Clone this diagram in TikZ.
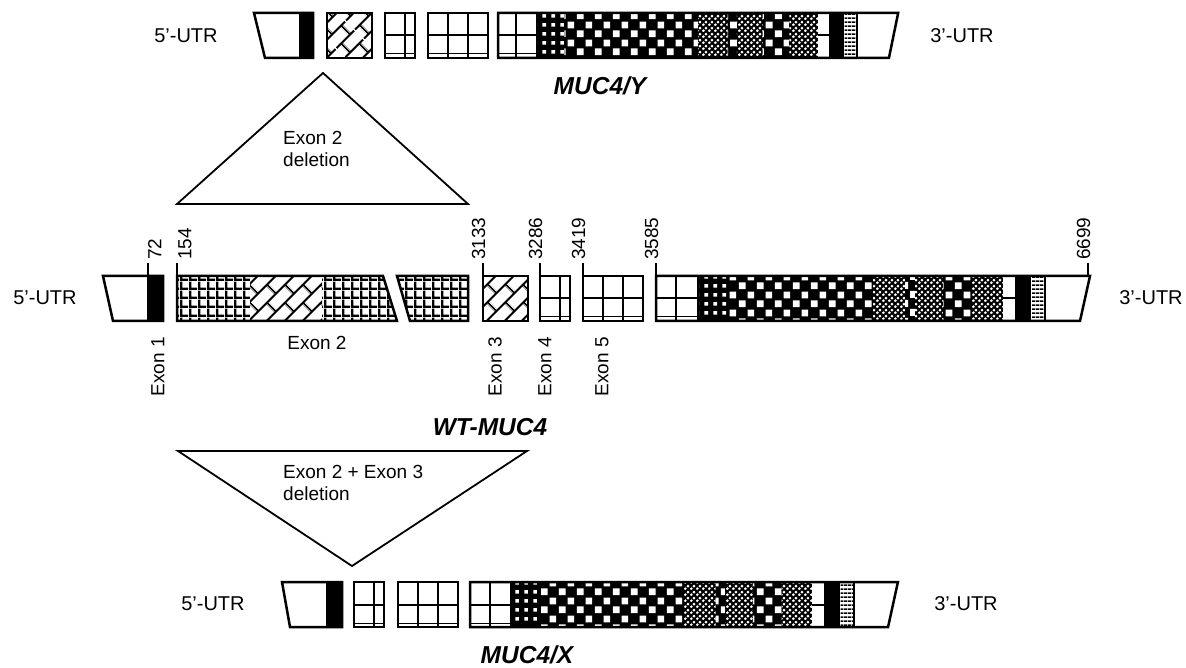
\documentclass[tikz,border=0pt]{standalone}
\usepackage{fontspec}
\setmainfont{Liberation Sans}
\usetikzlibrary{patterns,patterns.meta}

% fill patterns of the exon boxes
\pgfdeclarepatternformonly{exongrid}{\pgfpointorigin}{\pgfqpoint{9pt}{9pt}}{\pgfqpoint{9pt}{9pt}}{%
  \pgfpathrectangle{\pgfpointorigin}{\pgfqpoint{9pt}{2.5pt}}%
  \pgfpathrectangle{\pgfpointorigin}{\pgfqpoint{2.5pt}{9pt}}%
  \pgfusepath{fill}}
\pgfdeclarepatternformonly{whitecheck}{\pgfpointorigin}{\pgfqpoint{18pt}{18pt}}{\pgfqpoint{18pt}{18pt}}{%
  \pgfpathrectangle{\pgfqpoint{1pt}{1pt}}{\pgfqpoint{7pt}{7pt}}%
  \pgfpathrectangle{\pgfqpoint{10pt}{10pt}}{\pgfqpoint{7pt}{7pt}}%
  \pgfusepath{fill}}
\pgfdeclarepatternformonly{finedots}{\pgfpointorigin}{\pgfqpoint{6pt}{6pt}}{\pgfqpoint{6pt}{6pt}}{%
  \pgfpathcircle{\pgfqpoint{1.5pt}{1.5pt}}{1.7pt}%
  \pgfpathcircle{\pgfqpoint{4.5pt}{4.5pt}}{1.7pt}%
  \pgfusepath{fill}}
\pgfdeclarepatternformonly{sparsedots}{\pgfpointorigin}{\pgfqpoint{9pt}{9pt}}{\pgfqpoint{9pt}{9pt}}{%
  \pgfpathrectangle{\pgfqpoint{2.5pt}{2.5pt}}{\pgfqpoint{4pt}{4pt}}%
  \pgfusepath{fill}}
\pgfdeclarepatternformonly{hstripes}{\pgfpointorigin}{\pgfqpoint{4pt}{3.5pt}}{\pgfqpoint{4pt}{3.5pt}}{%
  \pgfpathrectangle{\pgfpointorigin}{\pgfqpoint{4pt}{1.7pt}}%
  \pgfusepath{fill}}
\pgfdeclarepattern{
  name=diagbricks,
  type=uncolored,
  bottom left={\pgfpoint{0pt}{0pt}},
  top right={\pgfpoint{26pt}{26pt}},
  tile size={\pgfpoint{26pt}{26pt}},
  tile transformation={\pgftransformrotate{45}},
  code={
    \pgfsetlinewidth{2.2pt}
    \pgfpathmoveto{\pgfpoint{0pt}{6.5pt}}\pgfpathlineto{\pgfpoint{26pt}{6.5pt}}
    \pgfpathmoveto{\pgfpoint{0pt}{19.5pt}}\pgfpathlineto{\pgfpoint{26pt}{19.5pt}}
    \pgfpathmoveto{\pgfpoint{6.5pt}{6.5pt}}\pgfpathlineto{\pgfpoint{6.5pt}{19.5pt}}
    \pgfpathmoveto{\pgfpoint{19.5pt}{19.5pt}}\pgfpathlineto{\pgfpoint{19.5pt}{26pt}}
    \pgfpathmoveto{\pgfpoint{19.5pt}{0pt}}\pgfpathlineto{\pgfpoint{19.5pt}{6.5pt}}
    \pgfusepath{stroke}
  }
}

\begin{document}
\begin{tikzpicture}[x=1pt,y=-1pt,
  box/.style={line width=2.5pt},
  cell/.style={line width=2pt},
  tick/.style={line width=1.8pt},
  tri/.style={line width=1.8pt,line join=miter},
  dotfill/.style={fill=black,postaction={pattern=finedots,pattern color=white}},
  checkfill/.style={fill=black,postaction={pattern=whitecheck,pattern color=white}},
  lbl/.style={font=\fontsize{19}{22.5}\selectfont,inner sep=0pt},
  utr/.style={font=\fontsize{20}{24}\selectfont,inner sep=0pt},
  title/.style={font=\fontsize{24.5}{28}\selectfont\bfseries\itshape,inner sep=0pt},
  num/.style={lbl,rotate=90}]
\useasboundingbox (0,0) rectangle (1186,668);

% 5'-UTR + exon 1
\foreach \a/\b/\c/\d/\ey in {254/265/299/313/13, 103/113/147/163/276, 282/290/326/342/582}{
  \fill (\c,\ey) rectangle (\d,\ey+45);
  \draw[box] (\a,\ey) -- (\d,\ey) -- (\d,\ey+45) -- (\b,\ey+45) -- cycle;
}
% exon 3
\foreach \ex/\ey in {327/13, 483/276}{
  \path[pattern=diagbricks] (\ex,\ey) rectangle ++(45,45);
  \draw[box] (\ex,\ey) rectangle ++(45,45);
}
% exon 4
\foreach \ex/\ey in {385/13, 540/276, 354/582}{
  \draw[cell] (\ex+20,\ey) -- (\ex+20,\ey+45) (\ex,\ey+22.5) -- (\ex+30,\ey+22.5);
  \draw[line width=1pt] (\ex,\ey+41) -- (\ex+30,\ey+41);
  \draw[box] (\ex,\ey) rectangle ++(30,45);
}
% exon 5
\foreach \ex/\ey in {428/13, 583/276, 398/582}{
  \draw[cell] (\ex+20,\ey) -- (\ex+20,\ey+45) (\ex+40,\ey) -- (\ex+40,\ey+45)
    (\ex,\ey+22.5) -- (\ex+60,\ey+22.5);
  \draw[line width=1pt] (\ex,\ey+41) -- (\ex+60,\ey+41);
  \draw[box] (\ex,\ey) rectangle ++(60,45);
}
% exons 6 to 25 + 3'-UTR
\foreach \tx/\ty/\ts in {498/13/0.922, 656/276/1, 470/582/0.986}{
\begin{scope}[shift={(\tx,\ty)},xscale=\ts]
  \draw[cell] (20,0) -- (20,45) (0,22.5) -- (41,22.5);
  \draw[line width=1pt] (0,41) -- (41,41);
  \fill (41,0) rectangle (72,45);
  \path[pattern=sparsedots,pattern color=white] (43,0) rectangle (72,45);
  \path[checkfill] (72,0) rectangle (217,45);
  \path[dotfill] (217,0) rectangle (249,45);
  \path[checkfill] (249,0) rectangle (259,45);
  \path[dotfill] (259,0) rectangle (287,45);
  \path[checkfill] (287,0) rectangle (316,45);
  \path[dotfill] (316,0) rectangle (347,45);
  \draw[cell] (347,22.5) -- (359,22.5);
  \fill (359,0) rectangle (374,45);
  \path[pattern=hstripes] (376,0) rectangle (389,45);
  \draw[cell] (374,0) -- (374,45) (389,0) -- (389,45);
  \draw[box] (0,0) -- (434,0) -- (424,45) -- (0,45) -- cycle;
\end{scope}
}

% exon 2, split
\path[pattern=exongrid] (177,276) -- (383,276) -- (397,321) -- (177,321) -- cycle;
\fill[white] (250,276) rectangle (322,321);
\path[pattern=diagbricks] (250,276) rectangle (322,321);
\draw[box] (177,276) -- (383,276) -- (397,321) -- (177,321) -- cycle;
\path[pattern=exongrid] (397,276) -- (468,276) -- (468,321) -- (410,321) -- cycle;
\draw[box] (397,276) -- (468,276) -- (468,321) -- (410,321) -- cycle;

% positions
\draw[tick] (148,276) -- (148,263);
\node[num,anchor=north west] (n72) at (148,260) {72};
\draw[tick] (177,276) -- (177,263);
\node[num,anchor=north west] (n154) at (178,260) {154};
\foreach \xpos/\num in {483/3133, 540/3286, 583/3419, 656/3585, 1088/6699}{
  \draw[tick] (\xpos,276) -- (\xpos,263);
  \node[num,anchor=south west] (n\num) at (\xpos+2.5,260) {\num};
}

% exon names
\node[num,anchor=east] (ex1) at (158,337) {Exon 1};
\node[lbl] (ex2) at (317,343) {Exon 2};
\node[num,anchor=east] (ex3) at (495,337) {Exon 3};
\node[num,anchor=east] (ex4) at (545,337) {Exon 4};
\node[num,anchor=east] (ex5) at (602,337) {Exon 5};

% deletions
\draw[tri] (177,204) -- (323,73) -- (468,204) -- cycle;
\node[lbl,align=left,anchor=north west] (del2) at (283,131) {Exon 2\\deletion};
\draw[tri] (178,451) -- (527,451) -- (352,566) -- cycle;
\node[lbl,align=left,anchor=north west] (del23) at (283,465) {Exon 2 + Exon 3\\deletion};

% UTR labels
\node[utr] (utr5y) at (186,36) {5'-UTR};
\node[utr] (utr3y) at (962,36) {3'-UTR};
\node[utr] (utr5wt) at (45,298) {5'-UTR};
\node[utr] (utr3wt) at (1151,298) {3'-UTR};
\node[utr] (utr5x) at (213,604) {5'-UTR};
\node[utr] (utr3x) at (966,604) {3'-UTR};

% transcripts
\node[title] (muc4y) at (600,86) {MUC4/Y};
\node[title] (wtmuc4) at (490,427) {WT-MUC4};
\node[title] (muc4x) at (527,655) {MUC4/X};
\end{tikzpicture}
\end{document}
